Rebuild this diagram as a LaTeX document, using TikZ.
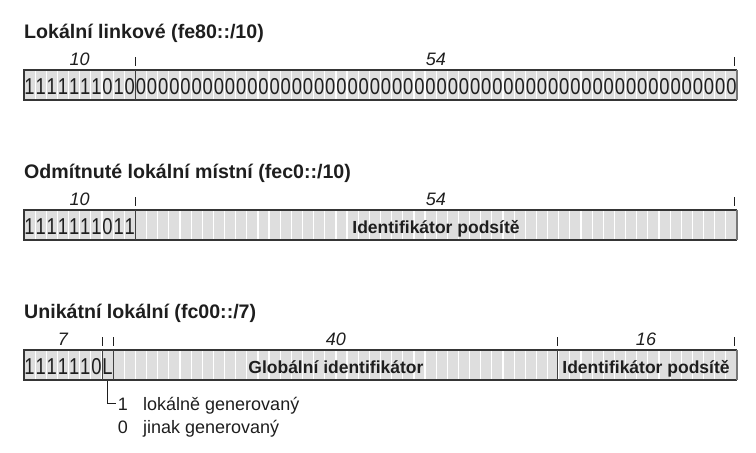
\documentclass[tikz,border=0pt]{standalone}
\usepackage{fontspec}
\setmainfont{Liberation Sans}
\newfontfamily\bitfont[FakeStretch=0.8]{Liberation Sans}
\definecolor{barfill}{HTML}{DEDEDE}
\definecolor{ink}{HTML}{1E1E1E}
\begin{document}
\begin{tikzpicture}[
    x=1pt, y=-1pt,
    title/.style={anchor=base west, inner sep=0pt, text=ink, font=\fontsize{19.6}{19.6}\selectfont\bfseries},
    width/.style={anchor=base, inner sep=0pt, text=ink, font=\fontsize{18}{18}\selectfont\itshape},
    bit/.style={anchor=base, inner sep=0pt, text=ink, font=\bitfont\fontsize{23}{23}\selectfont},
    field/.style={anchor=base, inner sep=0pt, text=ink, font=\fontsize{17.5}{17.5}\selectfont\bfseries},
    note/.style={anchor=base west, inner sep=0pt, text=ink, font=\fontsize{18}{18}\selectfont},
    tick/.style={line width=0.8pt, draw=ink},
    sep/.style={line width=0.9pt, draw=ink!85},
    link/.style={line width=0.8pt, draw=ink}
]
\useasboundingbox (0,0) rectangle (756,453);

% bars
\foreach \top in {70,210,350} {
  \fill[barfill] (24,\top) rectangle (737,\top+30);
  \foreach \i in {1,...,63}
    \draw[white, line width=1.2pt] (24+\i*11.14,\top) -- (24+\i*11.14,\top+30);
  \draw[line width=1.8pt, ink!90] (24,\top) -- (737,\top) (24,\top+30) -- (737,\top+30);
  \draw[line width=1.8pt, ink!90] (24,\top-0.9) -- (24,\top+30.9);
  \draw[line width=2.2pt, ink!60] (737,\top) -- (737,\top+30);
}

% Lokalni linkove
\node[title] (linktitle) at (24,38) {Lokální linkové (fe80::/10)};
\node[width] (linkprefix) at (79.7,65) {10};
\node[width] (linkrest) at (436,65) {54};
\draw[tick] (135.4,57) -- (135.4,66);
\draw[tick] (734,57) -- (734,66);
\draw[sep] (135.4,70) -- (135.4,100);
\foreach \d [count=\i] in {1,1,1,1,1,1,1,0,1,0}
  \node[bit] (link\i) at (18.43+\i*11.14,94) {\d};
\foreach \i in {11,...,64}
  \node[bit] (link\i) at (18.43+\i*11.14,94) {0};

% Odmitnute lokalni mistni
\node[title] (sitetitle) at (24,178) {Odmítnuté lokální místní (fec0::/10)};
\node[width] (siteprefix) at (79.7,205) {10};
\node[width] (siterest) at (436,205) {54};
\draw[tick] (135.4,197) -- (135.4,206);
\draw[tick] (734,197) -- (734,206);
\draw[sep] (135.4,210) -- (135.4,240);
\foreach \d [count=\i] in {1,1,1,1,1,1,1,0,1,1}
  \node[bit] (site\i) at (18.43+\i*11.14,234) {\d};
\node[field] (sitesubnet) at (436,233) {Identifikátor podsítě};

% Unikatni lokalni
\node[title] (uniqtitle) at (24,318) {Unikátní lokální (fc00::/7)};
\node[width] (uniqprefix) at (63,345) {7};
\node[width] (uniqglobal) at (335.9,345) {40};
\node[width] (uniqsubnet) at (646,345) {16};
\draw[tick] (102,337) -- (102,346);
\draw[tick] (113.1,337) -- (113.1,346);
\draw[tick] (557,337) -- (557,346);
\draw[tick] (734,337) -- (734,346);
\draw[sep] (102,350) -- (102,380);
\draw[sep] (113.1,350) -- (113.1,380);
\draw[sep] (557,350) -- (557,380);
\foreach \d [count=\i] in {1,1,1,1,1,1,0,L}
  \node[bit] (uniq\i) at (18.43+\i*11.14,374) {\d};
\node[field] (uniqglobalid) at (335.9,373) {Globální identifikátor};
\node[field] (uniqsubnetid) at (646,373) {Identifikátor podsítě};

% L bit
\coordinate (lflag) at (107.6,381);
\node[note, anchor=base east] (one) at (128,410) {1};
\node[note] (onetext) at (143,410) {lokálně generovaný};
\node[note, anchor=base east] (zero) at (128,433) {0};
\node[note] (zerotext) at (143,433) {jinak generovaný};
\draw[link, shorten >=2pt] (lflag) |- (one.west);

\end{tikzpicture}
\end{document}
